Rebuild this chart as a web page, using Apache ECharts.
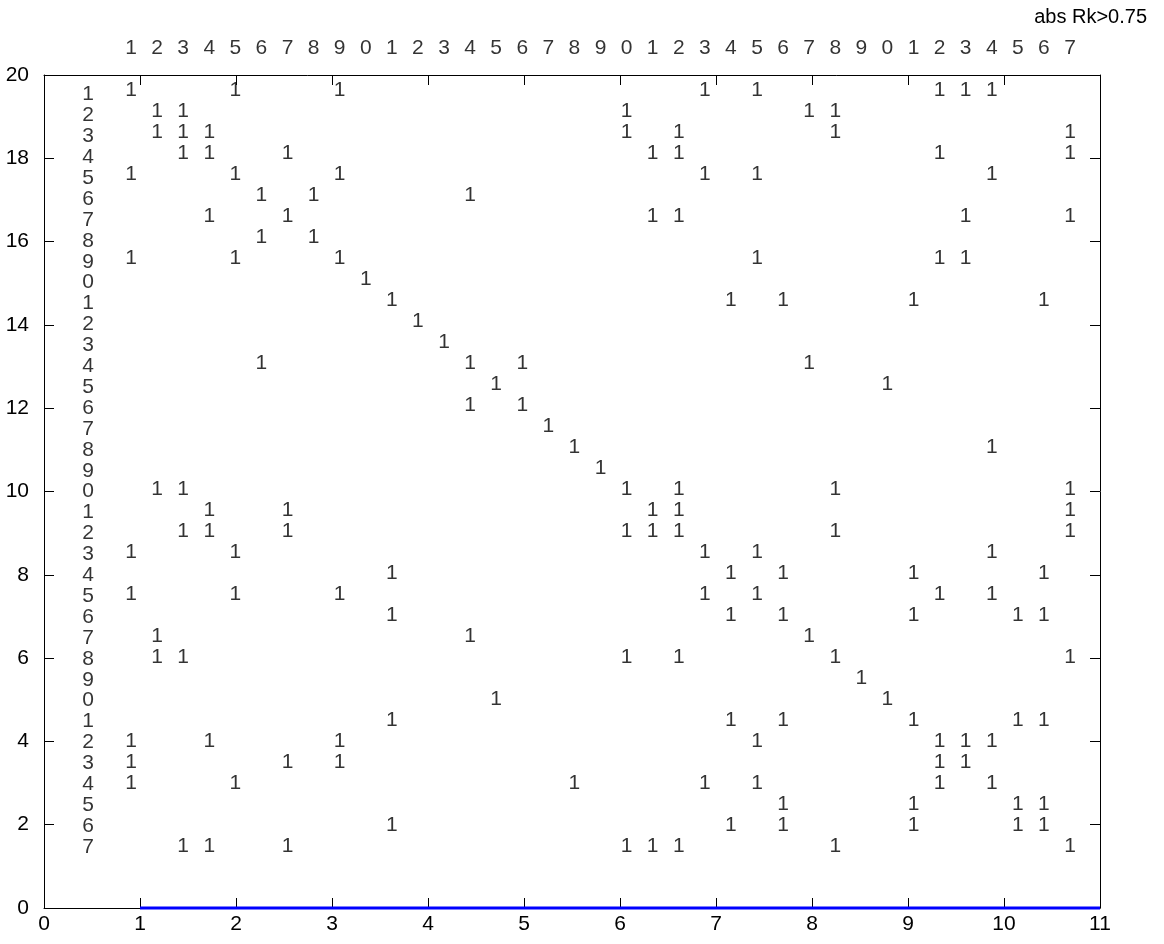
<!DOCTYPE html>
<html>
<head>
<meta charset="utf-8">
<script src="https://cdn.jsdelivr.net/npm/echarts@6/dist/echarts.min.js"></script>
<style>
html,body{margin:0;padding:0;background:#fff;}
#chart{width:1164px;height:944px;}
</style>
</head>
<body>
<div id="chart"></div>
<script>
// ---- data ----
// column labels (top) and row labels (left) : variable numbers 1..37 shown by last digit
const colLabels = ['1','2','3','4','5','6','7','8','9','0','1','2','3','4','5','6','7','8','9','0','1','2','3','4','5','6','7','8','9','0','1','2','3','4','5','6','7'];
const rowLabels = ['1','2','3','4','5','6','7','8','9','0','1','2','3','4','5','6','7','8','9','0','1','2','3','4','5','6','7','8','9','0','1','2','3','4','5','6','7'];
// for each row, the columns where abs(Rk) > 0.75 (cell shows "1")
const rowHits = [
  [1,5,9,23,25,32,33,34],
  [2,3,20,27,28],
  [2,3,4,20,22,28,37],
  [3,4,7,21,22,32,37],
  [1,5,9,23,25,34],
  [6,8,14],
  [4,7,21,22,33,37],
  [6,8],
  [1,5,9,25,32,33],
  [10],
  [11,24,26,31,36],
  [12],
  [13],
  [6,14,16,27],
  [15,30],
  [14,16],
  [17],
  [18,34],
  [19],
  [2,3,20,22,28,37],
  [4,7,21,22,37],
  [3,4,7,20,21,22,28,37],
  [1,5,23,25,34],
  [11,24,26,31,36],
  [1,5,9,23,25,32,34],
  [11,24,26,31,35,36],
  [2,14,27],
  [2,3,20,22,28,37],
  [29],
  [15,30],
  [11,24,26,31,35,36],
  [1,4,9,25,32,33,34],
  [1,7,9,32,33],
  [1,5,18,23,25,32,34],
  [26,31,35,36],
  [11,24,26,31,35,36],
  [3,4,7,20,21,22,28,37]
];
const cellText = '1';
// blue line drawn along the bottom
const lineX = [1,2,3,4,5,6,7,8,9,10,11];
const lineY = [0,0,0,0,0,0,0,0,0,0,0];
const xTicks = [0,1,2,3,4,5,6,7,8,9,10,11];
const yTicks = [0,2,4,6,8,10,12,14,16,18,20];
const titleText = 'abs Rk>0.75';

// ---- layout of the text matrix in axis units ----
const COL0 = 0.906, COLSTEP = 0.2717;
const ROW0 = 19.628, ROWSTEP = 0.5042;
const LAB_X = 0.458, LAB0 = 19.53, LABSTEP = 0.5018;
const TOP_Y = 20.64;
const colX = j => COL0 + (j - 1) * COLSTEP;
const rowY = i => ROW0 - (i - 1) * ROWSTEP;

const FONT = '"Liberation Sans", Arial, Helvetica, sans-serif';
const FS = 21;

const cellData = [];
rowHits.forEach((cols, r) => {
  cols.forEach(c => cellData.push({value: [colX(c), rowY(r + 1)], name: cellText}));
});
const topData = colLabels.map((t, k) => ({value: [colX(k + 1), TOP_Y], name: t}));
const leftData = rowLabels.map((t, k) => ({value: [LAB_X, LAB0 - k * LABSTEP], name: t}));

function textSeries(data) {
  return {
    type: 'scatter',
    data: data,
    symbol: 'circle',
    symbolSize: 1,
    itemStyle: {color: 'transparent'},
    clip: false,
    silent: true,
    animation: false,
    z: 5,
    label: {
      show: true,
      position: 'inside',
      formatter: p => p.name,
      color: '#000',
      fontSize: FS,
      fontFamily: FONT,
      align: 'center',
      verticalAlign: 'middle'
    },
    emphasis: {disabled: true}
  };
}

const axisLineStyle = {color: '#000', width: 1};
const chart = echarts.init(document.getElementById('chart'), null, {renderer: 'canvas'});
chart.setOption({
  backgroundColor: '#fff',
  animation: false,
  title: {
    text: titleText,
    right: 12,
    top: 2,
    textStyle: {fontSize: 20, fontWeight: 'normal', color: '#000', fontFamily: FONT}
  },
  grid: {left: 44, right: 64, top: 75, bottom: 36, containLabel: false, show: false},
  xAxis: [
    {type: 'value', min: 0, max: 11, interval: 1, position: 'bottom',
     axisLine: {show: true, onZero: false, lineStyle: axisLineStyle},
     axisTick: {show: true, inside: true, length: 10, lineStyle: axisLineStyle},
     axisLabel: {show: true, color: '#000', fontSize: FS, fontFamily: FONT, margin: 6,
       formatter: v => (xTicks.indexOf(v) >= 0 ? String(v) : '')},
     splitLine: {show: false}},
    {type: 'value', min: 0, max: 11, interval: 1, position: 'top',
     axisLine: {show: true, onZero: false, lineStyle: axisLineStyle},
     axisTick: {show: true, inside: true, length: 10, lineStyle: axisLineStyle},
     axisLabel: {show: false}, splitLine: {show: false}}
  ],
  yAxis: [
    {type: 'value', min: 0, max: 20, interval: 2, position: 'left',
     axisLine: {show: true, onZero: false, lineStyle: axisLineStyle},
     axisTick: {show: true, inside: true, length: 10, lineStyle: axisLineStyle},
     axisLabel: {show: true, color: '#000', fontSize: FS, fontFamily: FONT, margin: 15,
       formatter: v => (yTicks.indexOf(v) >= 0 ? String(v) : '')},
     splitLine: {show: false}},
    {type: 'value', min: 0, max: 20, interval: 2, position: 'right',
     axisLine: {show: true, onZero: false, lineStyle: axisLineStyle},
     axisTick: {show: true, inside: true, length: 10, lineStyle: axisLineStyle},
     axisLabel: {show: false}, splitLine: {show: false}}
  ],
  series: [
    textSeries(cellData),
    textSeries(topData),
    textSeries(leftData),
    {
      type: 'line',
      data: lineX.map((x, k) => [x, lineY[k]]),
      showSymbol: false,
      symbol: 'none',
      clip: false,
      silent: true,
      z: 10,
      lineStyle: {color: '#0000ff', width: 3}
    }
  ]
});
</script>
</body>
</html>
